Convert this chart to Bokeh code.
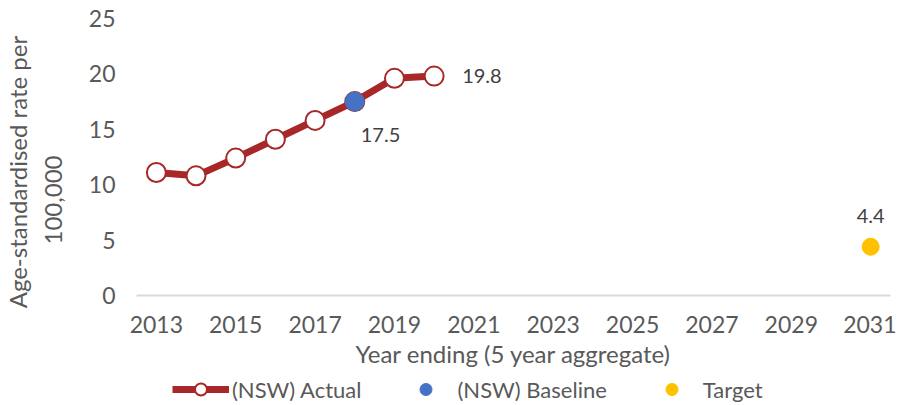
from bokeh.plotting import figure
from bokeh.layouts import column
from bokeh.models import Legend, LegendItem, ColumnDataSource, FixedTicker, Range1d
from bokeh.core.properties import value
from bokeh.embed import file_html
from bokeh.resources import INLINE

years = [2013, 2014, 2015, 2016, 2017, 2018, 2019, 2020]
actual = [11.1, 10.8, 12.4, 14.1, 15.8, 17.5, 19.6, 19.8]
baseline_year = [2018]
baseline_val = [17.5]
target_year = [2031]
target_val = [4.4]
xticks = [2013, 2015, 2017, 2019, 2021, 2023, 2025, 2027, 2029, 2031]
yticks = [0, 5, 10, 15, 20, 25]
series_names = ["(NSW) Actual", "(NSW) Baseline", "Target"]

FONT = "Lato"
TXT = "#595959"
RED = "#A8282A"
BLUE = "#4472C4"
GOLD = "#FFC000"

p = figure(width=896, height=374, output_backend="svg", toolbar_location=None,
           x_range=Range1d(2012.5, 2031.5), y_range=Range1d(0, 25),
           min_border_left=125, min_border_right=6, min_border_top=18, min_border_bottom=79)
p.outline_line_color = None
p.grid.grid_line_color = None

p.line(years, actual, line_color=RED, line_width=7)
p.scatter(years, actual, size=19, fill_color="white", line_color=RED, line_width=2)
p.scatter(baseline_year, baseline_val, size=19, fill_color=BLUE, line_color=BLUE)
p.scatter(target_year, target_val, size=17, fill_color=GOLD, line_color=GOLD)

# data labels
lab_font = dict(text_font=value(FONT), text_font_size="20px", text_color="#404040")
lab_src = ColumnDataSource(dict(x=[years[-1]], y=[actual[-1]], t=[f"{actual[-1]:.1f}"]))
p.text(x="x", y="y", text="t", source=lab_src, x_offset=28, y_offset=0, text_baseline="middle", **lab_font)
lab2 = ColumnDataSource(dict(x=[baseline_year[0]], y=[baseline_val[0]], t=[f"{baseline_val[0]:.1f}"]))
p.text(x="x", y="y", text="t", source=lab2, x_offset=6, y_offset=33, text_baseline="middle", **lab_font)
lab3 = ColumnDataSource(dict(x=[target_year[0]], y=[target_val[0]], t=[f"{target_val[0]:.1f}"]))
p.text(x="x", y="y", text="t", source=lab3, y_offset=-31, text_baseline="middle", text_align="center", **lab_font)

p.xaxis.ticker = FixedTicker(ticks=xticks)
p.yaxis.ticker = FixedTicker(ticks=yticks)
for ax in (p.xaxis[0], p.yaxis[0]):
    ax.major_tick_line_color = None
    ax.minor_tick_line_color = None
    ax.major_tick_out = 0
    ax.major_tick_in = 0
    ax.minor_tick_out = 0
    ax.major_label_text_font = FONT
    ax.major_label_text_font_size = "23px"
    ax.major_label_text_color = TXT
    ax.axis_label_text_font = FONT
    ax.axis_label_text_font_size = "24px"
    ax.axis_label_text_font_style = "normal"
    ax.axis_label_text_color = TXT
p.yaxis.axis_line_color = None
p.xaxis.axis_line_color = "#D9D9D9"
p.xaxis.axis_line_width = 2
p.xaxis.major_label_standoff = 20
p.yaxis.major_label_standoff = 21
p.xaxis.axis_label = "Year ending (5 year aggregate)"
p.xaxis.axis_label_standoff = 3
p.yaxis.axis_label = "Age-standardised rate per" + "\u00a0" * 5 + "\n100,000" + "\u00a0" * 14
p.yaxis.axis_label_standoff = 19

# legend strip (separate small figure below the chart); its series glyphs
# use the real data but fall outside this strip's ranges, so only the legend shows
q = figure(width=896, height=30, output_backend="svg", toolbar_location=None,
           x_range=Range1d(0, 1), y_range=Range1d(0, 1), x_axis_type=None, y_axis_type=None,
           min_border_left=0, min_border_right=0, min_border_top=0, min_border_bottom=0)
q.outline_line_color = None
q.grid.grid_line_color = None
l_line = q.line(years, actual, line_color=RED, line_width=7)
l_pts = q.scatter(years, actual, size=13, fill_color="white", line_color=RED, line_width=2)
l_base = q.scatter(baseline_year, baseline_val, size=13, fill_color=BLUE, line_color=BLUE)
l_targ = q.scatter(target_year, target_val, size=13, fill_color=GOLD, line_color=GOLD)

legend = Legend(items=[
    LegendItem(label=series_names[0], renderers=[l_line, l_pts]),
    LegendItem(label=series_names[1], renderers=[l_base]),
    LegendItem(label=series_names[2], renderers=[l_targ]),
], orientation="horizontal", location=(36, 0))
legend.border_line_color = None
legend.background_fill_alpha = 0
legend.label_text_font = FONT
legend.label_text_font_size = "22px"
legend.label_text_color = TXT
legend.glyph_width = 57
legend.glyph_height = 30
legend.label_height = 30
legend.spacing = 36
legend.padding = 0
legend.margin = 0
legend.label_standoff = 3
q.add_layout(legend, "center")

open("out.html", "w").write(file_html(column(p, q), INLINE))
